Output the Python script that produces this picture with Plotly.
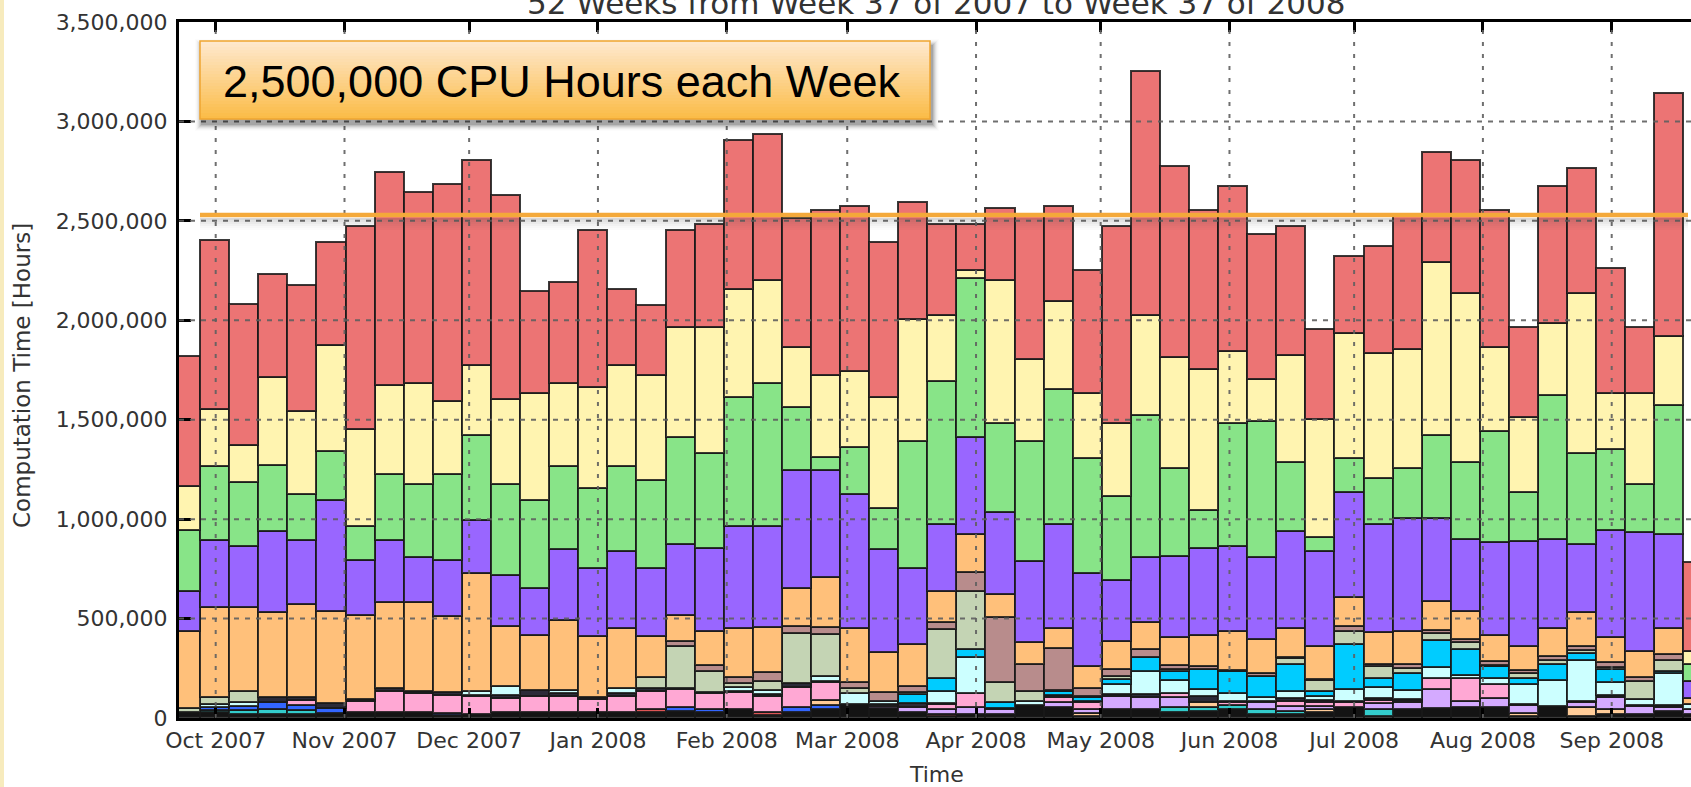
import plotly.graph_objects as go
import pandas as pd

# ---------------- data (thousands of CPU hours per week) ----------------
weeks = pd.date_range("2007-09-24", periods=53, freq="7D")
month_ticks = pd.date_range("2007-10-01", periods=12, freq="MS")
y_grid = [500000, 1000000, 1500000, 2000000, 2500000, 3000000]
target_hours = 2530000

black = [25,25,15,15,15,20,25,27,23,8, 15,23,23,23,27,27,25,30,27,40, 10,27,40,65,44,27,7,15,15,60,
         49,7,40,40,27,32,40,15,15,27, 49,7,40,45,48,49,7,57,7,15, 15,32,15]
red_small = [0,0,0,0,0,0,0,0,0,0, 0,0,0,0,0,0,15,0,0,0, 17,0,0,0,0,0,8,0,0,0,
             0,0,0,0,0,0,0,0,0,0, 0,0,0,0,0,0,0,0,0,0, 0,0,0]
teal = [0,8,22,25,20,0,0,0,0,0, 0,0,0,0,0,0,0,0,0,0, 0,0,0,0,0,0,0,0,0,0,
        0,0,0,0,22,17,20,25,17,0, 0,33,0,0,0,0,0,0,0,0, 0,0,0]
blue = [0,15,18,35,25,25,0,0,0,12, 0,0,0,0,0,0,0,20,13,0, 0,25,20,0,0,0,0,0,0,0,
        0,0,0,0,0,0,0,0,0,0, 0,0,0,0,0,0,0,0,0,0, 0,0,0]
tan = [0,0,0,0,0,0,0,0,0,0, 0,0,0,0,0,0,0,0,0,0, 0,0,27,0,0,0,0,0,0,0,
       0,13,0,0,0,25,0,0,0,13, 0,0,0,0,0,0,13,0,42,25, 0,0,0]
lavender = [0,0,0,0,0,0,0,0,0,0, 0,0,0,0,0,0,0,0,0,0, 0,0,0,0,13,22,25,34,25,0,
            25,20,67,59,50,0,0,34,25,17, 0,30,34,96,34,45,40,0,25,59, 39,17,25]
pink = [0,0,0,0,25,0,55,102,97,92, 92,75,85,85,65,80,89,91,81,84, 80,100,87,0,0,0,25,70,0,0,
        25,34,0,0,20,0,14,0,25,17, 25,17,8,53,114,72,0,0,0,0, 0,0,0]
dark = [0,0,0,24,14,25,10,15,12,12, 5,15,28,11,7,14,17,5,3,5, 9,19,9,0,8,21,5,0,5,0,
        13,5,9,17,0,30,8,8,12,11, 8,7,8,0,0,0,5,0,8,13, 8,11,0]
light_cyan = [0,17,20,0,0,0,0,0,0,0, 20,45,0,17,0,25,0,0,0,20, 20,0,25,54,17,0,59,181,0,22,
              0,0,50,114,69,37,37,17,35,22, 59,55,47,56,17,30,101,129,205,62, 28,161,25]
cyan = [0,0,0,0,0,0,0,0,0,0, 0,0,0,0,0,0,0,0,0,0, 0,0,0,0,0,45,67,42,29,0,
        17,20,25,70,45,100,111,109,137,22, 226,47,84,139,129,59,30,80,35,67, 0,12,0]
sage = [20,37,54,0,0,0,0,0,0,0, 0,0,0,0,0,0,57,209,109,22, 47,251,209,25,0,9,246,293,100,47,
        7,8,13,0,8,0,0,0,31,57, 67,59,24,31,33,6,25,21,17,9, 93,54,0]
brown = [0,0,0,0,0,0,0,0,0,0, 0,0,0,0,0,0,0,29,28,32, 42,34,34,34,42,33,34,92,327,137,
         211,37,37,42,20,17,6,13,6,5, 25,11,21,19,17,22,17,18,20,25, 20,30,0]
orange = [389,453,426,427,467,465,423,433,445,386, 592,298,276,353,310,300,206,129,173,243,
          229,191,251,268,201,210,159,193,117,109, 99,114,139,134,139,154,198,171,143,168,
          143,160,168,146,143,129,121,141,167,125, 130,129,29]
purple = [201,337,303,411,326,555,278,315,226,281, 266,258,235,357,338,390,338,357,414,514,
          506,593,538,674,520,380,335,490,412,408, 524,466,310,327,411,436,427,411,491,477,
          528,544,566,415,360,470,526,449,344,540, 595,474,89]
green = [305,368,322,328,228,250,169,328,367,429, 430,456,443,414,403,424,443,540,482,650,
         720,320,70,240,205,643,720,800,450,607, 680,576,420,717,439,192,619,687,343,69,
         170,230,250,420,385,558,245,725,460,410, 242,650,83]
yellow = [220,290,190,445,420,530,490,450,510,370, 350,430,540,420,510,510,530,550,630,540,
          520,300,410,380,560,610,330,40,720,410, 440,330,370,500,560,710,360,210,540,595,
          630,630,600,870,850,420,380,360,800,280, 460,345,68]
red = [655,850,705,520,630,520,1020,1070,960,1090, 1030,1025,510,510,790,380,350,490,520,750,
       730,650,830,830,780,590,460,230,360,730, 480,620,990,1230,960,800,830,730,650,450,
       390,540,680,550,670,690,450,690,630,630, 330,1225,444]

series = [
    ("black", black, "#141414"),
    ("red_small", red_small, "#dd5555"),
    ("teal", teal, "#33cccc"),
    ("blue", blue, "#3366ff"),
    ("tan", tan, "#ffcc99"),
    ("lavender", lavender, "#d4aaff"),
    ("pink", pink, "#ffa8d4"),
    ("dark", dark, "#2b2b38"),
    ("light_cyan", light_cyan, "#ccffff"),
    ("cyan", cyan, "#00ccff"),
    ("sage", sage, "#c4d4b4"),
    ("brown", brown, "#b88c8c"),
    ("orange", orange, "#ffc07a"),
    ("purple", purple, "#9966ff"),
    ("green", green, "#88e488"),
    ("yellow", yellow, "#fff4b0"),
    ("red", red, "#ec7474"),
]

# ---------------- geometry helpers (pixel -> paper) ----------------
W, H = 1691, 787
ML, MR, MT, MB = 179, 0, 22, 69
PW, PH = W - ML - MR, H - MT - MB


def px(x):
    return (x - ML) / PW


def py(y):
    return (H - MB - y) / PH


fig = go.Figure()
for name, vals, color in series:
    fig.add_trace(go.Bar(
        x=weeks, y=[v * 1000 if v else None for v in vals],
        width=7 * 86400000, name=name, showlegend=False, hoverinfo="skip",
        marker=dict(color=color, line=dict(color="rgba(25,25,25,0.85)", width=1.6)),
    ))

shapes = []
# grid lines drawn above bars (dotted)
for d in month_ticks:
    shapes.append(dict(type="line", xref="x", yref="paper", x0=d, x1=d, y0=0, y1=1,
                       line=dict(color="rgba(95,95,95,0.9)", width=2, dash="4px,8px"), layer="above"))
for v in y_grid:
    shapes.append(dict(type="line", xref="paper", yref="y", x0=0, x1=1, y0=v, y1=v,
                       line=dict(color="rgba(95,95,95,0.9)", width=2, dash="5px,6px"), layer="above"))

# shadow under the target line
ly = (H - MB) - (target_hours / 3500000) * PH
for i, a in enumerate([0.20, 0.15, 0.11, 0.07, 0.04, 0.02]):
    shapes.append(dict(type="rect", xref="paper", yref="paper", x0=px(200), x1=px(1688),
                       y0=py(ly + 3 + 2 * i), y1=py(ly + 5 + 2 * i),
                       fillcolor=f"rgba(60,60,60,{a})", line=dict(width=0), layer="above"))
# target line
shapes.append(dict(type="line", xref="paper", yref="y", x0=px(200), x1=px(1688),
                   y0=target_hours, y1=target_hours,
                   line=dict(color="#f4a93a", width=4.5), layer="above"))

# callout box: shadow, gradient, border
bx0, bx1, by0, by1 = 200, 930, 41, 119
for i, a in enumerate([0.12, 0.09, 0.07, 0.05, 0.035, 0.02, 0.012]):
    g = i + 1
    shapes.append(dict(type="rect", xref="paper", yref="paper",
                       x0=px(bx0 + 2 - g), x1=px(bx1 + 2 + g), y0=py(by0 + 5 - g), y1=py(by1 + 5 + g),
                       fillcolor=f"rgba(0,0,0,{a})", line=dict(width=0), layer="above"))
n = 26
for i in range(n):
    t = i / (n - 1)
    r = round(254 + (251 - 254) * t)
    gg = round(232 + (188 - 232) * t)
    b = round(205 + (72 - 205) * t)
    y0 = by0 + (by1 - by0) * i / n
    y1 = by0 + (by1 - by0) * (i + 1) / n
    shapes.append(dict(type="rect", xref="paper", yref="paper", x0=px(bx0), x1=px(bx1),
                       y0=py(y1 + 0.3), y1=py(y0), fillcolor=f"rgb({r},{gg},{b})",
                       line=dict(width=0), layer="above"))
shapes.append(dict(type="rect", xref="paper", yref="paper", x0=px(bx0), x1=px(bx1),
                   y0=py(by1), y1=py(by0), fillcolor="rgba(0,0,0,0)",
                   line=dict(color="#f0a530", width=1.5), layer="above"))
# cream strip at the very left edge of the slide
shapes.append(dict(type="rect", xref="paper", yref="paper", x0=px(0), x1=px(4),
                   y0=py(H), y1=py(0), fillcolor="#f7ebbd", line=dict(width=0), layer="above"))

label_font = dict(family="DejaVu Sans", size=22, color="#333333")
annotations = [
    dict(text="52 Weeks from Week 37 of 2007 to Week 37 of 2008", xref="paper", yref="paper",
         x=px(936.5), y=1, xanchor="center", yanchor="bottom", yshift=-1, showarrow=False,
         font=dict(family="DejaVu Sans", size=31, color="#333333")),
    dict(text="2,500,000 CPU Hours each Week", xref="paper", yref="paper",
         x=px(561.5), y=py(81), xanchor="center", yanchor="middle", showarrow=False,
         font=dict(family="Liberation Sans", size=45, color="#000000")),
    dict(text="Computation Time [Hours]", xref="paper", yref="paper", x=px(22), y=py(376),
         xanchor="center", yanchor="middle", textangle=-90, showarrow=False,
         font=dict(family="DejaVu Sans", size=23, color="#333333")),
    dict(text="Time", xref="paper", yref="paper", x=px(936), y=py(774),
         xanchor="center", yanchor="middle", showarrow=False,
         font=dict(family="DejaVu Sans", size=22, color="#333333")),
]

fig.update_layout(
    width=W, height=H, barmode="stack", bargap=0,
    margin=dict(l=ML, r=MR, t=MT, b=MB, pad=0),
    paper_bgcolor="white", plot_bgcolor="white",
    shapes=shapes, annotations=annotations, showlegend=False,
    xaxis=dict(type="date", range=["2007-09-22 04:00", "2008-09-20 02:00"],
               tickmode="array", tickvals=list(month_ticks),
               ticktext=[d.strftime("%b %Y") for d in month_ticks],
               ticks="inside", ticklen=10, tickwidth=3, tickcolor="black",
               showline=True, linecolor="black", linewidth=3, mirror="ticks",
               showgrid=False, zeroline=False, tickfont=label_font, ticklabelstandoff=1),
    yaxis=dict(range=[0, 3500000], tickmode="array", tickvals=[0] + y_grid + [3500000],
               tickformat=",d", ticks="inside", ticklen=12, tickwidth=3, tickcolor="black",
               showline=True, linecolor="black", linewidth=3, mirror=False,
               showgrid=False, zeroline=False, tickfont=label_font, ticklabelstandoff=4),
)

fig.write_html(
    "out.html",
    config={"displayModeBar": False},
    post_script="document.body.style.margin='0px';document.body.style.overflow='hidden';",
)
